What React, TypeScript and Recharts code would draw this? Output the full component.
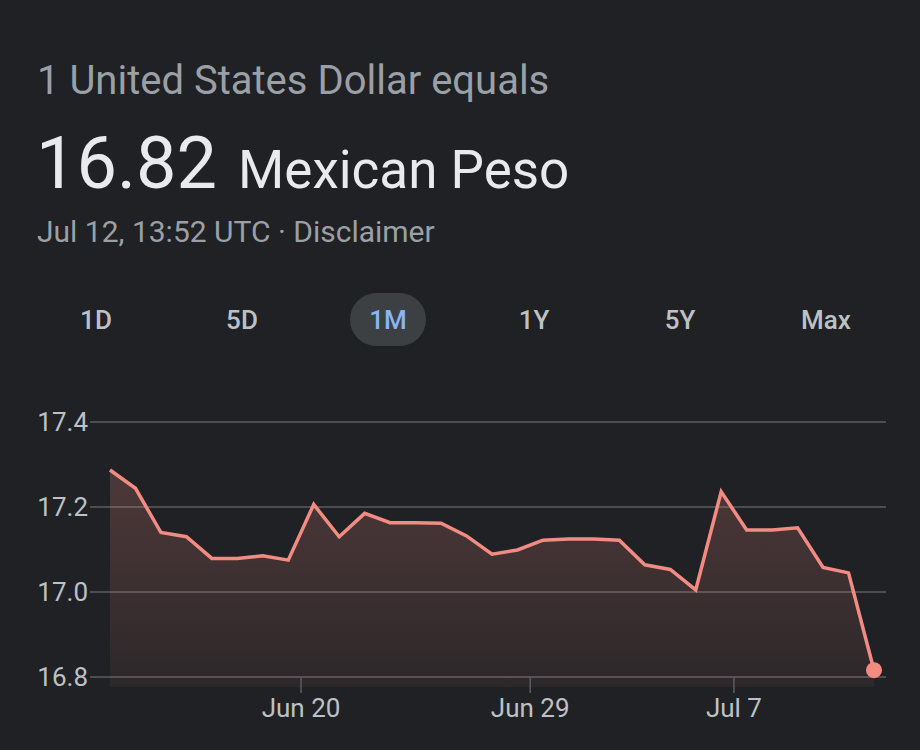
import React from "react";
import { AreaChart, Area, XAxis, YAxis, CartesianGrid } from "recharts";

const dates = [
  "2023-06-12", "2023-06-13", "2023-06-14", "2023-06-15", "2023-06-16", "2023-06-17",
  "2023-06-18", "2023-06-19", "2023-06-20", "2023-06-21", "2023-06-22", "2023-06-23",
  "2023-06-24", "2023-06-25", "2023-06-26", "2023-06-27", "2023-06-28", "2023-06-29",
  "2023-06-30", "2023-07-01", "2023-07-02", "2023-07-03", "2023-07-04", "2023-07-05",
  "2023-07-06", "2023-07-07", "2023-07-08", "2023-07-09", "2023-07-10", "2023-07-11",
  "2023-07-12",
];

const rates = [
  17.287, 17.244, 17.14, 17.13, 17.079, 17.079,
  17.085, 17.075, 17.206, 17.13, 17.185, 17.163,
  17.163, 17.162, 17.132, 17.089, 17.099, 17.122,
  17.125, 17.125, 17.122, 17.064, 17.053, 17.005,
  17.236, 17.146, 17.146, 17.151, 17.058, 17.045,
  16.816,
];

const xTickDates = ["2023-06-20", "2023-06-29", "2023-07-07"];
const xTickLabels = ["Jun 20", "Jun 29", "Jul 7"];
const yTicks = [16.8, 17.0, 17.2, 17.4];
const ranges = ["1D", "5D", "1M", "1Y", "5Y", "Max"];
const selectedRange = "1M";

const data = dates.map((d, i) => ({ t: Date.parse(d + "T12:00:00Z"), v: rates[i] }));
const xTicks = xTickDates.map((d) => Date.parse(d + "T00:00:00Z"));

const FONT = "Roboto, 'Noto Sans', sans-serif";
const BG = "#202124";
const LINE = "#f28b82";
const GRID = "#5a5d61";
const AXIS_TEXT = "#bdc1c6";

const XTick = (props: any) => {
  const { x, y, payload } = props;
  const idx = xTicks.indexOf(payload.value);
  return (
    <g>
      <line x1={x} x2={x} y1={y - 10} y2={y + 6} stroke={GRID} strokeWidth={1.5} />
      <text x={x} y={y + 30} textAnchor="middle" fill={AXIS_TEXT} fontSize={26} fontFamily={FONT}>
        {idx >= 0 ? xTickLabels[idx] : ""}
      </text>
    </g>
  );
};

const LastDot = (props: any) => {
  const { cx, cy, index } = props;
  if (index !== data.length - 1) return <g key={`d${index}`} />;
  return <circle key={`d${index}`} cx={cx} cy={cy} r={8} fill={LINE} />;
};

export default function App() {
  return (
    <div
      style={{
        position: "absolute",
        left: 0,
        top: 0,
        width: 920,
        height: 750,
        background: BG,
        fontFamily: FONT,
        overflow: "hidden",
      }}
    >
      <div
        style={{
          position: "absolute",
          left: 37,
          top: 61,
          fontSize: 40,
          lineHeight: "40px",
          color: "#9aa0a6",
          whiteSpace: "nowrap",
        }}
      >
        1 United States Dollar equals
      </div>
      <div
        style={{
          position: "absolute",
          left: 36,
          top: 128,
          fontSize: 72,
          lineHeight: "72px",
          color: "#e8eaed",
          whiteSpace: "nowrap",
        }}
      >
        16.82
      </div>
      <div
        style={{
          position: "absolute",
          left: 238,
          top: 144,
          fontSize: 53,
          lineHeight: "53px",
          color: "#e8eaed",
          whiteSpace: "nowrap",
        }}
      >
        Mexican Peso
      </div>
      <div
        style={{
          position: "absolute",
          left: 37,
          top: 217,
          fontSize: 30,
          lineHeight: "30px",
          color: "#9aa0a6",
          whiteSpace: "nowrap",
        }}
      >
        Jul 12, 13:52 UTC · Disclaimer
      </div>

      <div
        style={{
          position: "absolute",
          left: 23,
          top: 293,
          width: 876,
          height: 53,
          display: "flex",
        }}
      >
        {ranges.map((r) => (
          <div
            key={r}
            style={{ flex: 1, display: "flex", alignItems: "center", justifyContent: "center" }}
          >
            <div
              style={{
                height: 53,
                minWidth: r === selectedRange ? 76 : undefined,
                borderRadius: 27,
                background: r === selectedRange ? "#3c4043" : "transparent",
                color: r === selectedRange ? "#8ab4f8" : AXIS_TEXT,
                fontSize: 26,
                fontWeight: 500,
                display: "flex",
                alignItems: "center",
                justifyContent: "center",
              }}
            >
              {r}
            </div>
          </div>
        ))}
      </div>

      <div style={{ position: "absolute", left: 0, top: 400 }}>
        <AreaChart
          width={920}
          height={350}
          data={data}
          margin={{ top: 22, right: 34, left: 0, bottom: 0 }}
        >
          <defs>
            <linearGradient id="fillGrad" x1="0" y1="0" x2="0" y2="1">
              <stop offset="0%" stopColor={LINE} stopOpacity={0.22} />
              <stop offset="100%" stopColor={LINE} stopOpacity={0.06} />
            </linearGradient>
          </defs>
          <CartesianGrid vertical={false} stroke={GRID} strokeWidth={1.5} syncWithTicks />
          <XAxis
            dataKey="t"
            type="number"
            domain={["dataMin", "dataMax"]}
            padding={{ left: 20, right: 12 }}
            ticks={xTicks}
            height={63}
            axisLine={false}
            tickLine={false}
            tickSize={0}
            tickMargin={0}
            tick={<XTick />}
            interval={0}
          />
          <YAxis
            width={90}
            domain={[16.7765, 17.4]}
            ticks={yTicks}
            allowDataOverflow
            axisLine={false}
            tickLine={false}
            tickSize={0}
            tickMargin={2}
            tickFormatter={(v: number) => v.toFixed(1)}
            tick={{ fill: AXIS_TEXT, fontSize: 26, fontFamily: FONT }}
          />
          <Area
            type="linear"
            dataKey="v"
            stroke={LINE}
            strokeWidth={3.5}
            fill="url(#fillGrad)"
            fillOpacity={1}
            dot={LastDot}
            activeDot={false}
            isAnimationActive={false}
          />
        </AreaChart>
      </div>
    </div>
  );
}
